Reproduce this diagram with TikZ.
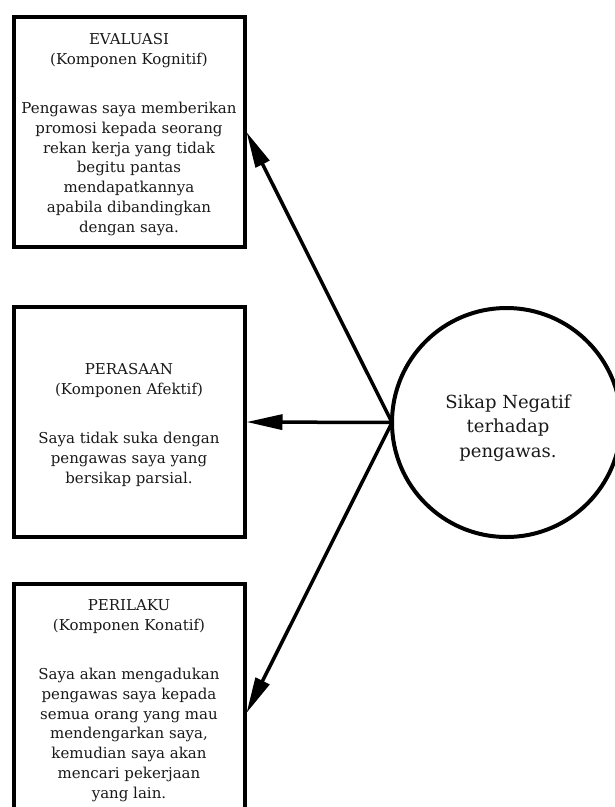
\documentclass[tikz,border=0pt]{standalone}
\usepackage{fontspec}
\setmainfont{DejaVu Serif}
\usetikzlibrary{arrows.meta,calc}
\begin{document}
\begin{tikzpicture}[x=1pt,y=-1pt,
  compbox/.style={draw=black,line width=4pt,rectangle,minimum width=230.5pt,minimum height=230pt,inner sep=0pt},
  comptext/.style={align=center,inner sep=0pt,anchor=base,font=\fontsize{15}{19.7}\selectfont,text=black!90},
  attcircle/.style={draw=black,line width=4pt,circle,minimum size=229pt,inner sep=0pt,outer sep=0pt},
  circtext/.style={align=center,inner sep=0pt,anchor=base,font=\fontsize{18}{24.5}\selectfont,text=black!90},
  link/.style={line width=3.5pt,-{Triangle[length=36pt,width=15pt]}}]
\useasboundingbox (0,0) rectangle (614,807);
\node[compbox] (b1) at (129.25,132) {};
\node[compbox] (b2) at (129.25,422) {};
\node[compbox] (b3) at (129.25,699) {};
\node[attcircle] (c) at (506.5,422.5) {};
\node[comptext] (t1) at (129,232) {EVALUASI\\(Komponen Kognitif)\\[30pt]Pengawas saya memberikan\\promosi kepada seorang\\rekan kerja yang tidak\\begitu pantas\\mendapatkannya\\apabila dibandingkan\\dengan saya.};
\node[comptext] (t2) at (129,483) {PERASAAN\\(Komponen Afektif)\\[29.5pt]Saya tidak suka dengan\\pengawas saya yang\\bersikap parsial.};
\node[comptext] (t3) at (129,798) {PERILAKU\\(Komponen Konatif)\\[30pt]Saya akan mengadukan\\pengawas saya kepada\\semua orang yang mau\\mendengarkan saya,\\kemudian saya akan\\mencari pekerjaan\\yang lain.};
\node[circtext] (tc) at (508,457) {Sikap Negatif\\terhadap\\pengawas.};
\coordinate (e3) at ($(b3.north east)+(0,131)$);
\draw[link] (c.west) -- (b1.east);
\draw[link] (c.west) -- (b2.east);
\draw[link] (c.west) -- (e3);
\end{tikzpicture}
\end{document}
